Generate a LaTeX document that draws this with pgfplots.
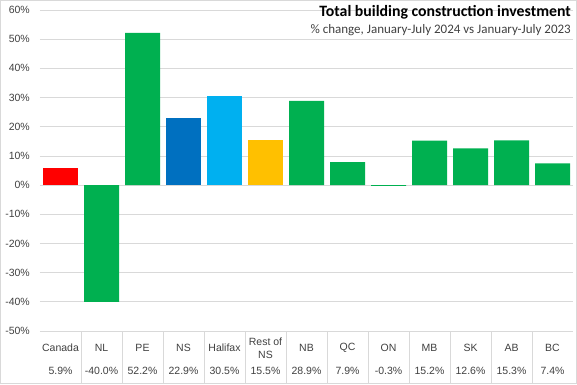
\documentclass[border=0pt]{standalone}
\usepackage{pgfplots}
\pgfplotsset{compat=1.18}
\usepackage{fontspec}
\setmainfont{Liberation Sans}
\newfontfamily\titlefont{Carlito}
\definecolor{txt}{HTML}{404040}
\definecolor{gridc}{HTML}{D9D9D9}
\definecolor{cred}{HTML}{FF0000}
\definecolor{cgreen}{HTML}{00B050}
\definecolor{cdblue}{HTML}{0070C0}
\definecolor{clblue}{HTML}{00B0F0}
\definecolor{cgold}{HTML}{FFC000}
\newcommand\cat[2]{\parbox[t]{41pt}{\centering\parbox[c][30pt][c]{41pt}{\centering #1}\par\vspace{3pt}#2}}
\begin{document}
\begin{tikzpicture}[x=1pt,y=1pt]
\useasboundingbox (0,0) rectangle (577,384);
\draw[gridc] (0.5,0.5) rectangle (576.5,383.5);
\begin{axis}[at={(40pt,53pt)}, anchor=south west, scale only axis,
  width=533pt, height=321pt,
  ymin=-50, ymax=60, ytick={-50,-40,...,60},
  yticklabel={\pgfmathprintnumber{\tick}\%},
  /pgf/number format/assume math mode=true,
  xmin=-0.5, xmax=12.5, xtick={0,...,12},
  xticklabels={\cat{Canada}{5.9\%},\cat{NL}{-40.0\%},\cat{PE}{52.2\%},\cat{NS}{22.9\%},\cat{Halifax}{30.5\%},\cat{Rest of\\NS}{15.5\%},\cat{NB}{28.9\%},\cat{QC}{7.9\%},\cat{ON}{-0.3\%},\cat{MB}{15.2\%},\cat{SK}{12.6\%},\cat{AB}{15.3\%},\cat{BC}{7.4\%}},
  axis line style={draw=none}, major tick style={draw=none},
  ymajorgrids, grid style={gridc, line width=0.8pt},
  yticklabel style={inner sep=0pt, xshift=-10pt, font=\fontsize{10.5}{12}\selectfont, text=txt},
  xticklabel style={inner sep=0pt, anchor=north, yshift=-2pt, font=\fontsize{10.5}{12.5}\selectfont, text=txt},
  clip=false]
\addplot[ybar, bar width=35pt, bar shift=0pt, fill=cred, draw=none] coordinates {(0,5.9)};
\addplot[ybar, bar width=35pt, bar shift=0pt, fill=cgreen, draw=none] coordinates {(1,-40.0) (2,52.2) (6,28.9) (7,7.9) (8,-0.3) (9,15.2) (10,12.6) (11,15.3) (12,7.4)};
\addplot[ybar, bar width=35pt, bar shift=0pt, fill=cdblue, draw=none] coordinates {(3,22.9)};
\addplot[ybar, bar width=35pt, bar shift=0pt, fill=clblue, draw=none] coordinates {(4,30.5)};
\addplot[ybar, bar width=35pt, bar shift=0pt, fill=cgold, draw=none] coordinates {(5,15.5)};
\pgfplotsinvokeforeach{0.5,1.5,2.5,3.5,4.5,5.5,6.5,7.5,8.5,9.5,10.5,11.5}{
  \draw[gridc, line width=0.8pt] (axis cs:#1,-50) -- ++(0pt,-53pt);
}
\end{axis}
\node[anchor=base east, inner sep=0pt, font=\titlefont\bfseries\fontsize{15.8}{18}\selectfont] at (571,367) {Total building construction investment};
\node[anchor=base east, inner sep=0pt, text=txt, font=\titlefont\fontsize{13}{15}\selectfont] at (571,351) {\% change, January-July 2024 vs January-July 2023};
\end{tikzpicture}
\end{document}
